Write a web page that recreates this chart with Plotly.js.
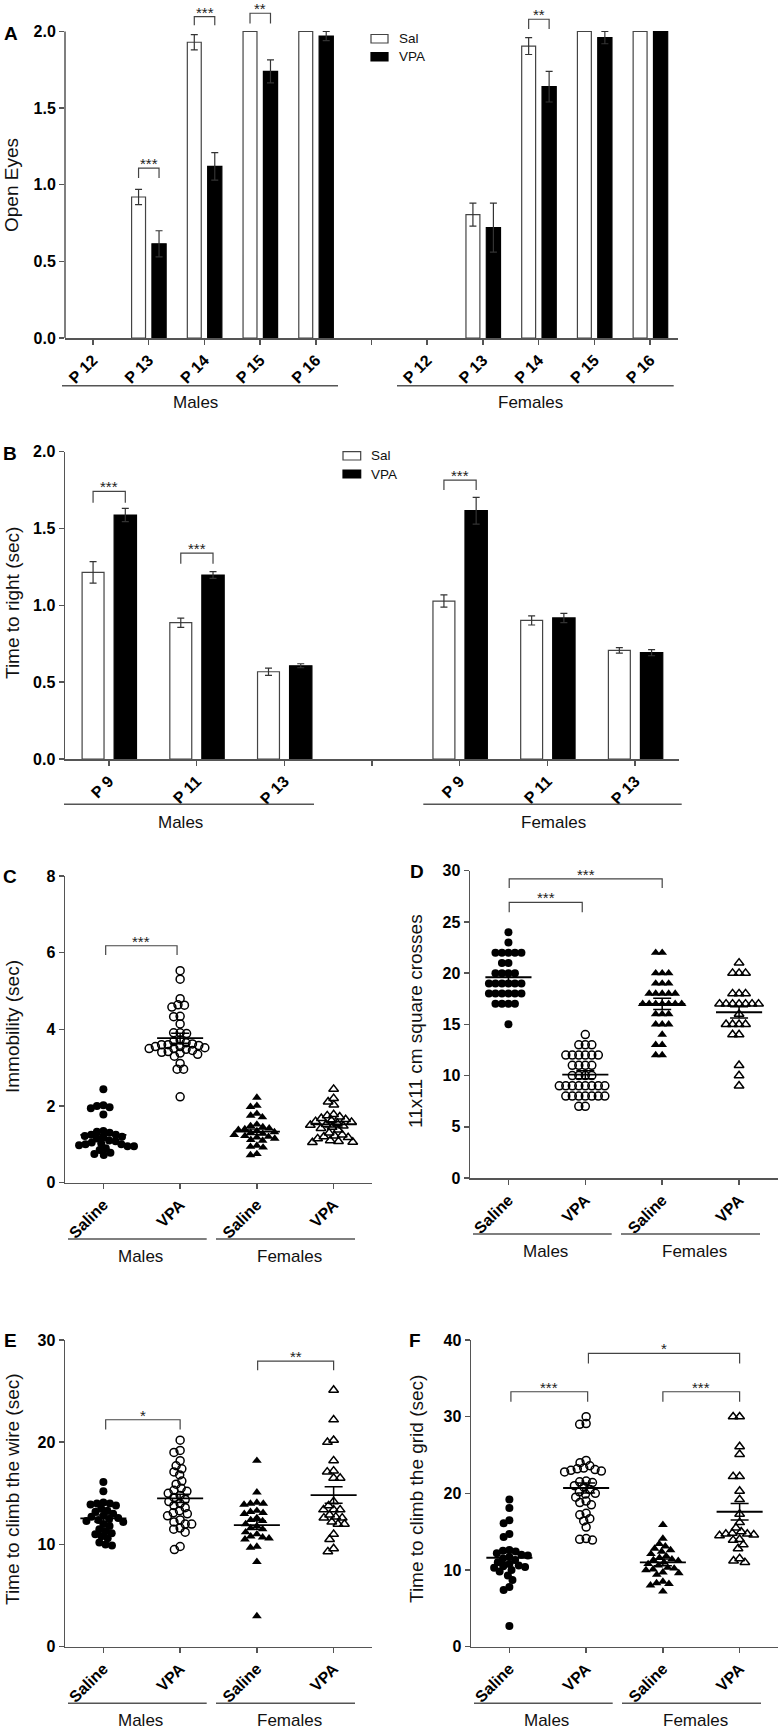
<!DOCTYPE html>
<html><head><meta charset="utf-8">
<script src="https://cdn.plot.ly/plotly-3.0.1.min.js"></script>
<style>html,body{margin:0;padding:0;background:#fff}#chart{width:780px;height:1729px}</style>
</head><body><div id="chart"></div>
<script>
// ---------------- DATA ----------------
// Panel A: open eyes (0-2), mean and SEM
const eyeDays = ['P 12', 'P 13', 'P 14', 'P 15', 'P 16'];
const eyeSalMales = [0, 0.92, 1.93, 2.0, 2.0];
const eyeSalMalesErr = [0, 0.05, 0.05, 0, 0];
const eyeVpaMales = [0, 0.615, 1.12, 1.74, 1.97];
const eyeVpaMalesErr = [0, 0.085, 0.09, 0.075, 0.03];
const eyeSalFemales = [0, 0.805, 1.905, 2.0, 2.0];
const eyeSalFemalesErr = [0, 0.075, 0.055, 0, 0];
const eyeVpaFemales = [0, 0.72, 1.64, 1.96, 2.0];
const eyeVpaFemalesErr = [0, 0.16, 0.1, 0.04, 0];

// Panel B: time to right (sec)
const rightDays = ['P 9', 'P 11', 'P 13'];
const rightSalMales = [1.215, 0.887, 0.568];
const rightSalMalesErr = [0.07, 0.03, 0.024];
const rightVpaMales = [1.588, 1.197, 0.607];
const rightVpaMalesErr = [0.043, 0.022, 0.013];
const rightSalFemales = [1.028, 0.902, 0.707];
const rightSalFemalesErr = [0.04, 0.03, 0.018];
const rightVpaFemales = [1.616, 0.918, 0.692];
const rightVpaFemalesErr = [0.087, 0.03, 0.02];

const treatLabels = ['Saline', 'VPA', 'Saline', 'VPA'];
const sexLabels = ['Males', 'Females'];
const legendLabels = ['Sal', 'VPA'];

// Panel C: immobility (sec)
const immMaleSal = [2.44, 2.02, 1.97, 1.94, 2.0, 1.78, 1.35, 1.33, 1.3, 1.25, 1.25, 1.22, 1.2, 1.18, 1.15, 1.1, 1.08, 1.05, 1.02, 1.0, 1.0, 0.98, 0.95, 0.95, 0.9, 0.85, 0.78, 0.75, 0.72];
const immMaleVpa = [5.53, 5.31, 4.80, 4.64, 4.63, 4.58, 4.34, 4.33, 4.14, 3.91, 3.91, 3.89, 3.72, 3.68, 3.65, 3.62, 3.6, 3.6, 3.58, 3.55, 3.55, 3.52, 3.5, 3.5, 3.48, 3.45, 3.42, 3.4, 3.38, 3.35, 3.3, 3.11, 2.96, 2.96, 2.24];
const immFemSal = [2.22, 2.01, 1.98, 1.8, 1.75, 1.71, 1.52, 1.48, 1.45, 1.42, 1.4, 1.38, 1.35, 1.32, 1.3, 1.28, 1.25, 1.22, 1.2, 1.18, 1.15, 1.12, 1.1, 0.97, 0.94, 0.92, 0.75, 0.72];
const immFemVpa = [2.44, 2.2, 2.11, 2.03, 1.78, 1.75, 1.72, 1.68, 1.65, 1.62, 1.6, 1.58, 1.55, 1.52, 1.5, 1.48, 1.45, 1.42, 1.38, 1.3, 1.25, 1.22, 1.2, 1.18, 1.15, 1.1, 1.08, 1.06, 1.05];
const immMean = [1.245, 3.77, 1.33, 1.52];
const immSem = [0.09, 0.13, 0.07, 0.07];

// Panel D: 11x11 cm square crosses
const crossMaleSal = [24, 23, 22, 22, 22, 22, 22, 21, 21, 20, 20, 20, 20, 19, 19, 19, 19, 19, 19, 18, 18, 18, 18, 18, 18, 17, 17, 17, 17, 15];
const crossMaleVpa = [14, 13, 13, 13, 12, 12, 12, 12, 12, 12, 11, 11, 11, 11, 10, 10, 10, 10, 9, 9, 9, 9, 9, 9, 9, 9, 8, 8, 8, 8, 8, 8, 8, 7, 7];
const crossFemSal = [22, 22, 20, 20, 20, 19, 19, 19, 18, 18, 18, 18, 18, 17, 17, 17, 17, 17, 17, 17, 16, 16, 16, 15, 15, 15, 14, 13, 13, 12, 12];
const crossFemVpa = [21, 20, 20, 20, 18, 18, 18, 17, 17, 17, 17, 17, 17, 17, 16, 15, 15, 15, 15, 14, 14, 11, 10, 9];
const crossMean = [19.6, 10.09, 17.0, 16.18];
const crossSem = [0.42, 0.39, 0.55, 0.55];

// Panel E: time to climb the wire (sec)
const wireMaleSal = [16.1, 15.2, 14.1, 14.0, 14.0, 13.9, 13.8, 13.5, 13.3, 13.2, 13.0, 12.8, 12.7, 12.6, 12.5, 12.4, 12.3, 12.2, 12.0, 11.8, 11.5, 11.3, 11.1, 11.0, 10.8, 10.6, 10.2, 10.0, 9.9];
const wireMaleVpa = [20.2, 19.2, 19.0, 18.2, 17.7, 17.4, 17.1, 16.8, 16.2, 15.9, 15.5, 15.3, 15.2, 15.0, 14.8, 14.6, 14.4, 14.2, 14.0, 13.8, 13.6, 13.3, 13.1, 13.0, 12.8, 12.4, 12.2, 12.0, 12.0, 11.6, 11.5, 11.2, 9.8, 9.5];
const wireFemSal = [18.2, 15.1, 14.1, 14.0, 14.0, 13.9, 13.3, 13.2, 13.1, 13.0, 12.6, 12.4, 12.3, 12.0, 11.8, 11.6, 11.5, 11.2, 11.0, 10.8, 10.7, 10.6, 10.5, 9.8, 9.7, 8.3, 3.0];
const wireFemVpa = [25.1, 22.2, 20.2, 20.0, 18.2, 17.2, 17.1, 16.5, 16.5, 14.2, 13.8, 13.4, 13.4, 13.4, 12.9, 12.7, 12.6, 12.6, 12.2, 12.0, 12.0, 11.0, 10.5, 9.6, 9.3];
const wireMean = [12.55, 14.5, 11.9, 14.83];
const wireSem = [0.33, 0.4, 0.42, 0.81];

// Panel F: time to climb the grid (sec)
const gridMaleSal = [19.2, 18.1, 16.5, 16.1, 14.7, 14.3, 12.6, 12.5, 12.4, 12.2, 12.0, 11.9, 11.7, 11.5, 11.3, 11.0, 10.8, 10.6, 10.5, 10.4, 10.3, 10.0, 9.8, 9.3, 8.7, 7.8, 7.4, 2.7];
const gridMaleVpa = [30.0, 29.1, 29.0, 24.3, 24.0, 23.6, 23.3, 23.2, 23.1, 23.0, 22.9, 22.8, 21.6, 21.5, 21.4, 21.0, 20.8, 20.5, 20.2, 20.0, 19.9, 19.5, 19.0, 18.8, 18.5, 17.4, 17.2, 16.7, 16.4, 15.6, 14.1, 14.0, 13.9];
const gridFemSal = [15.9, 14.1, 13.4, 13.1, 12.8, 12.6, 12.4, 12.1, 11.8, 11.6, 11.4, 11.3, 11.2, 11.0, 10.8, 10.6, 10.3, 10.2, 10.1, 10.0, 9.7, 9.6, 9.4, 8.5, 8.3, 8.2, 8.0, 7.2];
const gridFemVpa = [30.0, 30.0, 26.1, 25.1, 22.2, 22.2, 20.3, 19.2, 17.3, 16.2, 15.5, 15.0, 14.8, 14.7, 14.7, 14.6, 14.5, 14.0, 13.9, 13.3, 12.8, 11.5, 11.2, 11.0];
const gridMean = [11.6, 20.7, 11.0, 17.6];
const gridSem = [0.65, 0.65, 0.43, 1.09];

// ---------------- LAYOUT HELPERS ----------------
const W = 780, H = 1729;
const P = x => x / W;
const Q = y => 1 - y / H;
const FONT = 'Arial, "Liberation Sans", Helvetica, sans-serif';
const AXC = '#555';

const traces = [];
const shapes = [];
const annotations = [];
const layout = {
  width: W, height: H, margin: {l: 0, r: 0, t: 0, b: 0},
  paper_bgcolor: '#fff', plot_bgcolor: 'rgba(0,0,0,0)',
  showlegend: false, barmode: 'overlay',
  font: {family: FONT, color: '#000'},
  shapes, annotations
};

function xAxis(x0, x1, range, tickvals, ticktext, anchor) {
  return {domain: [P(x0), P(x1)], anchor, range, tickmode: 'array', tickvals, ticktext,
    tickangle: -45, showline: true, linecolor: AXC, linewidth: 1.5, ticks: 'outside', ticklen: 5,
    tickwidth: 1.5, tickcolor: AXC, showgrid: false, zeroline: false, fixedrange: true,
    tickfont: {family: FONT, size: 16, color: '#000', weight: 'bold'}};
}
function yAxis(yb, yt, range, dtick, fmt, anchor, showline) {
  return {domain: [Q(yb), Q(yt)], anchor, range, tickmode: 'linear', tick0: 0, dtick, tickformat: fmt,
    showline, linecolor: AXC, linewidth: 1.5, ticks: 'outside', ticklen: 5, tickwidth: 1.5,
    tickcolor: AXC, showgrid: false, zeroline: false, fixedrange: true,
    tickfont: {family: FONT, size: 16, color: '#000', weight: 'bold'}};
}
function text(x, y, t, size, opts) {
  annotations.push(Object.assign({xref: 'paper', yref: 'paper', x: P(x), y: Q(y), text: t,
    showarrow: false, xanchor: 'center', yanchor: 'middle',
    font: {family: FONT, size, color: '#111'}}, opts || {}));
}
function hline(x0, x1, y) {
  shapes.push({type: 'line', xref: 'paper', yref: 'paper', x0: P(x0), x1: P(x1), y0: Q(y), y1: Q(y),
    line: {color: AXC, width: 1.5}});
}
function bracket(xa, ya, x1, x2, yt, yb, label) {
  shapes.push({type: 'path', xref: xa, yref: ya,
    path: 'M' + x1 + ',' + yb + ' L' + x1 + ',' + yt + ' L' + x2 + ',' + yt + ' L' + x2 + ',' + yb,
    line: {color: '#444', width: 1.2}});
  annotations.push({xref: xa, yref: ya, x: (x1 + x2) / 2, y: yt, text: label, showarrow: false, borderpad: 0,
    xanchor: 'center', yanchor: 'bottom', yshift: -5, font: {family: FONT, size: 15, color: '#222'}});
}
function legendBox(x0, x1, y0, y1, fill, label, tx) {
  shapes.push({type: 'rect', xref: 'paper', yref: 'paper', x0: P(x0), x1: P(x1), y0: Q(y1), y1: Q(y0),
    fillcolor: fill, line: {color: fill === '#000' ? '#000' : '#444', width: 1.2}});
  text(tx, (y0 + y1) / 2, label, 13.5, {xanchor: 'left'});
}

// bar geometry (in category units)
const SAL_OFF = -0.305, SAL_W = 0.25, VPA_OFF = 0.06, VPA_W = 0.255;
const SAL_C = SAL_OFF + SAL_W / 2, VPA_C = VPA_OFF + VPA_W / 2;

function barTrace(x, y, err, vpa, xa, ya) {
  return {type: 'bar', x, y, xaxis: xa, yaxis: ya,
    offset: vpa ? VPA_OFF : SAL_OFF, width: vpa ? VPA_W : SAL_W,
    marker: {color: vpa ? '#000' : '#fff',
      line: {color: vpa ? '#000' : '#444', width: y.map(v => (v > 0 ? 1.2 : 0))}},
    error_y: {type: 'data', array: err.map(e => (e > 0 ? e : NaN)), visible: true, color: '#333', thickness: 1.2, width: 3.5},
    hoverinfo: 'skip'};
}

// ---------------- PANEL A ----------------
const nA = eyeDays.length;
const xMA = eyeDays.map((d, i) => i);
const xFA = eyeDays.map((d, i) => i + nA + 1);
const A_TOP = 2.13; // extra head-room for brackets
layout.xaxis = xAxis(65, 678, [-0.5, 2 * nA + 0.5], xMA.concat([nA], xFA), eyeDays.concat([''], eyeDays), 'y');
layout.yaxis = yAxis(338, 338 - A_TOP * (338 - 31.5) / 2, [0, A_TOP], 0.5, '.1f', 'x', false);
shapes.push({type: 'line', xref: 'x domain', yref: 'y', x0: 0, x1: 0, y0: 0, y1: 2, line: {color: AXC, width: 1.5}});
traces.push(barTrace(xMA.concat(xFA), eyeSalMales.concat(eyeSalFemales), eyeSalMalesErr.concat(eyeSalFemalesErr), false, 'x', 'y'));
traces.push(barTrace(xMA.concat(xFA), eyeVpaMales.concat(eyeVpaFemales), eyeVpaMalesErr.concat(eyeVpaFemalesErr), true, 'x', 'y'));
bracket('x', 'y', 1 + SAL_C, 1 + VPA_C, 1.109, 1.044, '***');
bracket('x', 'y', 2 + SAL_C, 2 + VPA_C, 2.097, 2.04, '***');
bracket('x', 'y', 3 + SAL_C, 3 + VPA_C, 2.119, 2.053, '**');
bracket('x', 'y', 8 + SAL_C, 8 + VPA_C, 2.08, 2.016, '**');
legendBox(371, 388, 34.5, 43, '#fff', legendLabels[0], 397);
legendBox(371, 388, 52.7, 61, '#000', legendLabels[1], 397);
hline(62, 338, 385.7); hline(397, 673.7, 385.7);
text(195, 403, sexLabels[0], 17); text(530, 403, sexLabels[1], 17);
text(11, 33, 'A', 19, {font: {family: FONT, size: 19, color: '#000', weight: 'bold'}});
text(12, 185, 'Open Eyes', 19, {textangle: -90});

// ---------------- PANEL B ----------------
const nB = rightDays.length;
const xMB = rightDays.map((d, i) => i);
const xFB = rightDays.map((d, i) => i + nB + 1);
layout.xaxis2 = xAxis(65, 679, [-0.5, 2 * nB + 0.5], xMB.concat([nB], xFB), rightDays.concat([''], rightDays), 'y2');
layout.yaxis2 = yAxis(759, 451.7, [0, 2], 0.5, '.1f', 'x2', true);
traces.push(barTrace(xMB.concat(xFB), rightSalMales.concat(rightSalFemales), rightSalMalesErr.concat(rightSalFemalesErr), false, 'x2', 'y2'));
traces.push(barTrace(xMB.concat(xFB), rightVpaMales.concat(rightVpaFemales), rightVpaMalesErr.concat(rightVpaFemalesErr), true, 'x2', 'y2'));
bracket('x2', 'y2', 0 + SAL_C, 0 + VPA_C, 1.742, 1.668, '***');
bracket('x2', 'y2', 1 + SAL_C, 1 + VPA_C, 1.34, 1.271, '***');
bracket('x2', 'y2', 4 + SAL_C, 4 + VPA_C, 1.815, 1.75, '***');
legendBox(343, 360.7, 451.7, 460, '#fff', legendLabels[0], 369);
legendBox(343, 360.7, 470, 478, '#000', legendLabels[1], 369);
hline(64, 314, 804.3); hline(423.3, 681.7, 804.3);
text(180, 822, sexLabels[0], 17); text(553, 822, sexLabels[1], 17);
text(10, 453, 'B', 19, {font: {family: FONT, size: 19, color: '#000', weight: 'bold'}});
text(12, 603, 'Time to right (sec)', 19, {textangle: -90});

// ---------------- DOT PANELS ----------------
function swarm(vals, pxPerY, d) {
  const idx = vals.map((v, i) => i).sort((a, b) => vals[b] - vals[a]);
  const placed = [];
  const out = new Array(vals.length).fill(0);
  idx.forEach(i => {
    const y = vals[i] * pxPerY;
    const near = placed.filter(p => Math.abs(p.y - y) < d);
    const cands = [0];
    near.forEach(p => {
      const dx = Math.sqrt(d * d - (p.y - y) * (p.y - y));
      cands.push(p.x + dx, p.x - dx);
    });
    cands.sort((a, b) => Math.abs(a) - Math.abs(b) || a - b);
    let best = 0;
    for (const c of cands) {
      if (near.every(p => (p.x - c) * (p.x - c) + (p.y - y) * (p.y - y) >= d * d - 1e-6)) { best = c; break; }
    }
    placed.push({x: best, y});
    out[i] = best;
  });
  return out;
}
const markerStyles = [
  {symbol: 'circle', size: 8, color: '#000'},
  {symbol: 'circle-open', size: 8, color: '#000', line: {width: 1.5}},
  {symbol: 'triangle-up', size: 8.5, color: '#000'},
  {symbol: 'triangle-up-open', size: 8.5, color: '#000', line: {width: 1.5}}
];
function dotPanel(n, g, groups, means, sems, yMax, dtick) {
  const xa = 'x' + n, ya = 'y' + n;
  layout['xaxis' + n] = xAxis(g.x0, g.x1, [-0.5, 3.5], [0, 1, 2, 3], treatLabels, ya);
  layout['yaxis' + n] = yAxis(g.yb, g.yt, [0, yMax], dtick, '', xa, true);
  const pxX = (g.x1 - g.x0) / 4, pxY = (g.yb - g.yt) / yMax;
  groups.forEach((vals, k) => {
    const off = swarm(vals, pxY, 6.5);
    traces.push({type: 'scatter', mode: 'markers', xaxis: xa, yaxis: ya,
      x: off.map(o => k + o / pxX), y: vals, marker: markerStyles[k], hoverinfo: 'skip', cliponaxis: false});
  });
  traces.push({type: 'scatter', mode: 'markers', xaxis: xa, yaxis: ya,
    x: [0, 1, 2, 3], y: means, marker: {size: 1, color: 'rgba(0,0,0,0)'}, hoverinfo: 'skip',
    error_x: {type: 'data', array: means.map(() => 0.3), visible: true, color: '#000', thickness: 1.8, width: 0},
    error_y: {type: 'data', array: sems, visible: true, color: '#000', thickness: 1.5, width: 9}});
  hline(g.x0 + 3, g.x0 + 141.7, g.line); hline(g.x0 + 151, g.x0 + 290, g.line);
  text(g.x0 + 75, g.line + 17.5, sexLabels[0], 17);
  text(g.x0 + 224.3, g.line + 17.5, sexLabels[1], 17);
}

// C
dotPanel(3, {x0: 65, x1: 372, yb: 1182.7, yt: 876, line: 1239},
  [immMaleSal, immMaleVpa, immFemSal, immFemVpa], immMean, immSem, 8, 2);
bracket('x3', 'y3', 0.03, 0.96, 6.18, 5.94, '***');
text(10, 876, 'C', 19, {font: {family: FONT, size: 19, color: '#000', weight: 'bold'}});
text(12, 1027, 'Immobility (sec)', 19, {textangle: -90});

// D
dotPanel(4, {x0: 470, x1: 777.5, yb: 1178, yt: 870.7, line: 1234},
  [crossMaleSal, crossMaleVpa, crossFemSal, crossFemVpa], crossMean, crossSem, 30, 5);
bracket('x4', 'y4', 0.01, 2.0, 29.2, 28.3, '***');
bracket('x4', 'y4', 0.01, 0.96, 26.9, 25.95, '***');
text(417, 871, 'D', 19, {font: {family: FONT, size: 19, color: '#000', weight: 'bold'}});
text(415, 1021, '11x11 cm square crosses', 19, {textangle: -90});

// E
dotPanel(5, {x0: 65, x1: 372, yb: 1646.7, yt: 1340, line: 1703.3},
  [wireMaleSal, wireMaleVpa, wireFemSal, wireFemVpa], wireMean, wireSem, 30, 10);
bracket('x5', 'y5', 0.03, 1.0, 22.2, 21.25, '*');
bracket('x5', 'y5', 2.01, 3.0, 27.93, 27.05, '**');
text(10, 1340, 'E', 19, {font: {family: FONT, size: 19, color: '#000', weight: 'bold'}});
text(12, 1489, 'Time to climb the wire (sec)', 19, {textangle: -90});

// F
dotPanel(6, {x0: 471, x1: 778, yb: 1646.7, yt: 1340, line: 1703.3},
  [gridMaleSal, gridMaleVpa, gridFemSal, gridFemVpa], gridMean, gridSem, 40, 10);
bracket('x6', 'y6', 1.03, 3.0, 38.25, 36.95, '*');
bracket('x6', 'y6', 0.02, 1.02, 33.25, 31.95, '***');
bracket('x6', 'y6', 2.0, 3.0, 33.25, 31.95, '***');
text(415, 1340, 'F', 19, {font: {family: FONT, size: 19, color: '#000', weight: 'bold'}});
text(416, 1489, 'Time to climb the grid (sec)', 19, {textangle: -90});

Plotly.newPlot('chart', traces, layout, {displayModeBar: false, staticPlot: true});
</script></body></html>
